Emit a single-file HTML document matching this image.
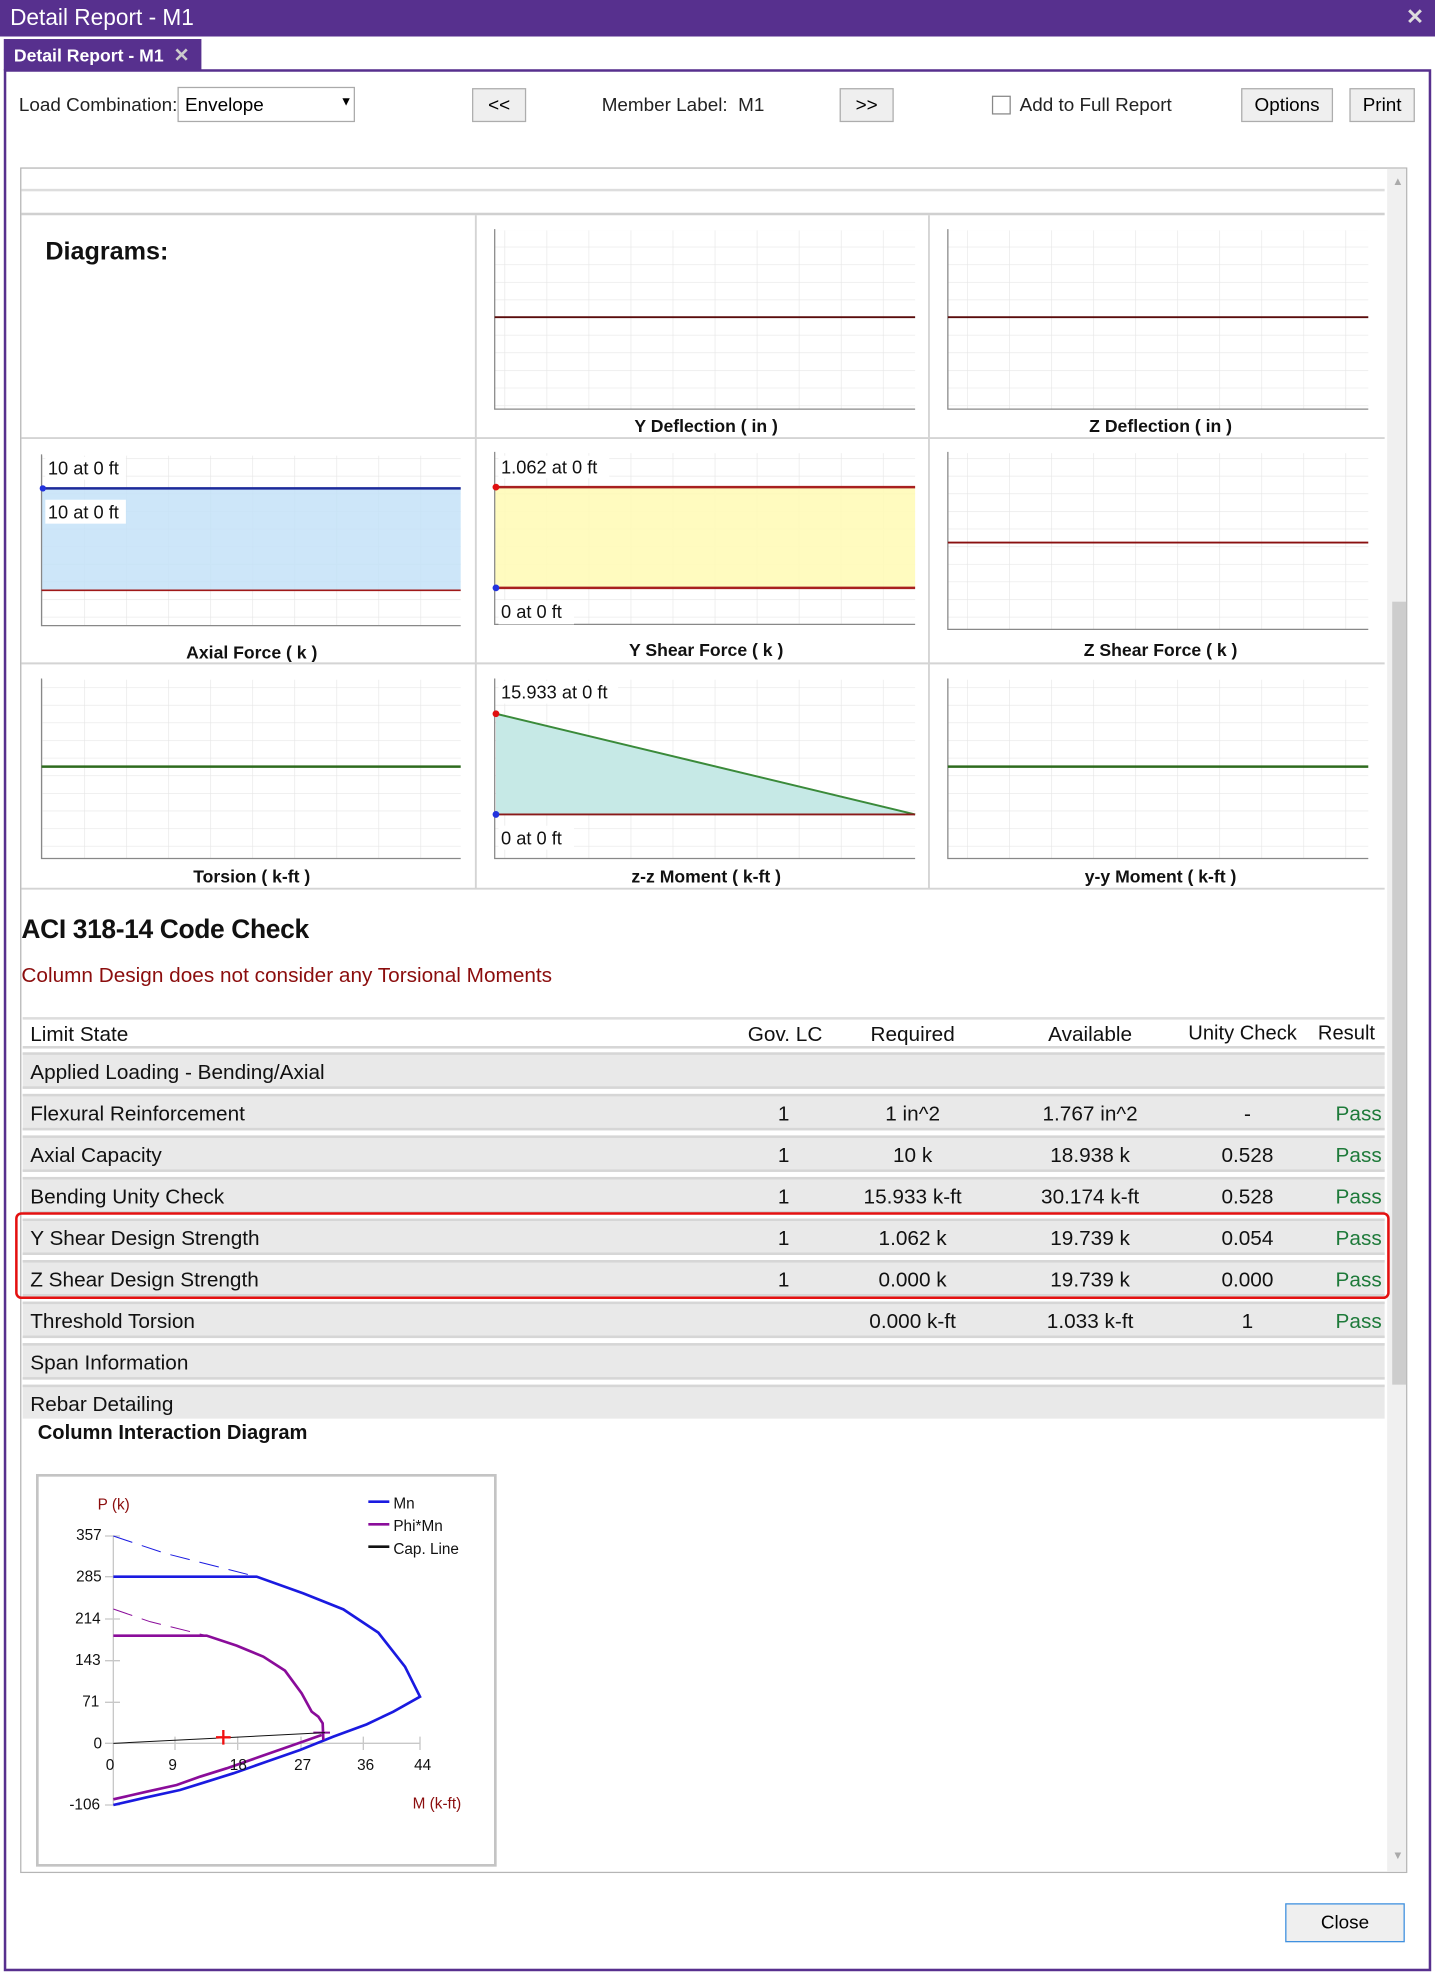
<!DOCTYPE html>
<html><head><meta charset="utf-8">
<style>
html,body{margin:0;padding:0;background:#fff;width:1435px;height:1973px;overflow:hidden;font-family:"Liberation Sans",sans-serif;}
#w{position:absolute;left:0;top:0;width:1140px;height:1568px;transform:scale(1.25877);transform-origin:0 0;}
.a{position:absolute;}
.t{position:absolute;white-space:nowrap;}
.btn{position:absolute;background:#efefef;border:1px solid #adadad;font-size:15px;text-align:center;box-sizing:border-box;}
.row{position:absolute;left:18px;width:1082px;height:29px;background:#e9e9e9;border-top:2px solid #d6d6d6;border-bottom:2px solid #d6d6d6;box-sizing:border-box;font-size:16.5px;color:#111;}
.row span{position:absolute;top:5px;white-space:nowrap;}
.c1{left:6px}.c2{left:600px}.c3{left:647px;width:120px;text-align:center}.c4{left:783px;width:130px;text-align:center}.c5{left:933px;width:80px;text-align:center}.c6{left:1043px;color:#1e7a3a}
</style></head><body>
<div id="w">
<div class="a" style="left:0;top:0;width:1140px;height:29px;background:#57308e;"></div>
<div class="t" style="left:8px;top:4px;font-size:18px;color:#fff;">Detail Report - M1</div>
<div class="t" style="left:1117px;top:4px;font-size:17px;color:#ddd;font-weight:bold;">✕</div>
<div class="a" style="left:3px;top:31px;width:157px;height:25px;background:#57308e;"></div>
<div class="t" style="left:11px;top:35px;font-size:14px;color:#fff;font-weight:bold;">Detail Report - M1 <span style="color:#ccc;font-size:15px;margin-left:4px">✕</span></div>
<div class="a" style="left:3px;top:55px;width:1130px;height:1507px;border:2px solid #57308e;"></div>
<div class="t" style="left:15px;top:75px;font-size:15px;color:#222;">Load Combination:</div>
<div class="a" style="left:141px;top:69px;width:141px;height:28px;border:1px solid #aaa;box-sizing:border-box;"></div>
<div class="t" style="left:147px;top:75px;font-size:15px;">Envelope</div>
<div class="t" style="left:270px;top:76px;font-size:10px;">▼</div>
<div class="btn" style="left:375px;top:70px;width:43px;height:27px;line-height:25px;">&lt;&lt;</div>
<div class="t" style="left:478px;top:75px;font-size:15px;color:#222;">Member Label:&nbsp; M1</div>
<div class="btn" style="left:667px;top:70px;width:43px;height:27px;line-height:25px;">&gt;&gt;</div>
<div class="a" style="left:788px;top:76px;width:15px;height:15px;border:1px solid #888;box-sizing:border-box;"></div>
<div class="t" style="left:810px;top:75px;font-size:15px;color:#222;">Add to Full Report</div>
<div class="btn" style="left:986px;top:70px;width:73px;height:27px;line-height:25px;">Options</div>
<div class="btn" style="left:1072px;top:70px;width:52px;height:27px;line-height:25px;">Print</div>
<div class="a" style="left:16px;top:133px;width:1102px;height:1355px;border:1px solid #b5b5b5;box-sizing:border-box;"></div>
<div class="a" style="left:1102px;top:134px;width:15px;height:1353px;background:#f0f0f0;"></div>
<div class="a" style="left:1106px;top:478px;width:11px;height:622px;background:#cdcdcd;"></div>
<div class="t" style="left:1106px;top:139px;font-size:9px;color:#aaa;">▲</div>
<div class="t" style="left:1106px;top:1469px;font-size:9px;color:#aaa;">▼</div>
<div class="a" style="left:17px;top:150px;width:1083px;height:2px;background:#ddd;"></div>
<div class="a" style="left:17px;top:169px;width:1083px;height:2px;background:#d0d0d0;"></div>
<svg class="a" style="left:0;top:0" width="1140" height="720">
<defs>
<pattern id="g" width="33.4" height="14" patternUnits="userSpaceOnUse"><path d="M0 0V14M0 0H33.4" stroke="#e6e6e6" stroke-width="1" fill="none"/></pattern>
</defs>
<g stroke="#d4d4d4" stroke-width="1.5" fill="none">
<path d="M378 171V706M738 171V706M17 348H1100M17 527H1100M17 706H1100"/>
</g>
<g>
<rect x="393" y="183" width="334" height="142" fill="url(#g)"/>
<path d="M393 182V325H727" stroke="#888" fill="none"/>
<path d="M393 252H727" stroke="#5a0c0c" stroke-width="1.5"/>
<rect x="753" y="183" width="334" height="142" fill="url(#g)"/>
<path d="M753 182V325H1087" stroke="#888" fill="none"/>
<path d="M753 252H1087" stroke="#5a0c0c" stroke-width="1.5"/>
<rect x="33" y="362" width="333" height="135" fill="url(#g)"/>
<rect x="33" y="388" width="333" height="81" fill="#c4e2f8" opacity="0.85"/>
<path d="M33 361V497H366" stroke="#888" fill="none"/>
<path d="M33 388H366" stroke="#1c2a9a" stroke-width="2"/>
<path d="M33 469H366" stroke="#a01818" stroke-width="1.3"/>
<circle cx="34" cy="388" r="2.5" fill="#2233dd"/>
<rect x="393" y="360" width="334" height="136" fill="url(#g)"/>
<rect x="393" y="387" width="334" height="80" fill="#fffbb8" opacity="0.9"/>
<path d="M393 359V496H727" stroke="#888" fill="none"/>
<path d="M393 387H727M393 467H727" stroke="#a82020" stroke-width="2"/>
<circle cx="394" cy="387" r="2.7" fill="#e01010"/><circle cx="394" cy="467" r="2.7" fill="#2233dd"/>
<rect x="753" y="360" width="334" height="140" fill="url(#g)"/>
<path d="M753 359V500H1087" stroke="#888" fill="none"/>
<path d="M753 431H1087" stroke="#8a1010" stroke-width="1.5"/>
<rect x="33" y="540" width="333" height="142" fill="url(#g)"/>
<path d="M33 539V682H366" stroke="#888" fill="none"/>
<path d="M33 609H366" stroke="#2e6b1e" stroke-width="2"/>
<rect x="393" y="540" width="334" height="142" fill="url(#g)"/>
<path d="M394 567L727 647H394Z" fill="#c6e9e6"/>
<path d="M393 539V682H727" stroke="#888" fill="none"/>
<path d="M394 567L727 647" stroke="#3a8a3a" stroke-width="1.6"/>
<path d="M394 647H727" stroke="#8a1a1a" stroke-width="1.5"/>
<circle cx="394" cy="567" r="2.7" fill="#e01010"/><circle cx="394" cy="647" r="2.7" fill="#2233dd"/>
<rect x="753" y="540" width="334" height="142" fill="url(#g)"/>
<path d="M753 539V682H1087" stroke="#888" fill="none"/>
<path d="M753 609H1087" stroke="#2e6b1e" stroke-width="2"/>
</g>
<g font-family="Liberation Sans,sans-serif" font-size="14.5" fill="#111">
<rect x="36" y="363" width="64" height="18" fill="#fff"/><text x="38" y="377">10 at 0 ft</text>
<rect x="36" y="397" width="64" height="19" fill="#fff"/><text x="38" y="412">10 at 0 ft</text>
<rect x="396" y="362" width="88" height="18" fill="#fff"/><text x="398" y="376">1.062 at 0 ft</text>
<rect x="396" y="477" width="60" height="19" fill="#fff"/><text x="398" y="491">0 at 0 ft</text>
<rect x="396" y="541" width="95" height="18" fill="#fff"/><text x="398" y="555">15.933 at 0 ft</text>
<rect x="396" y="656" width="60" height="19" fill="#fff"/><text x="398" y="671">0 at 0 ft</text>
</g>
<g font-family="Liberation Sans,sans-serif" font-size="14" font-weight="bold" fill="#111" text-anchor="middle">
<text x="561" y="343">Y Deflection  ( in )</text>
<text x="922" y="343">Z Deflection  ( in )</text>
<text x="200" y="523">Axial Force  ( k )</text>
<text x="561" y="521">Y Shear Force  ( k )</text>
<text x="922" y="521">Z Shear Force  ( k )</text>
<text x="200" y="701">Torsion  ( k-ft )</text>
<text x="561" y="701">z-z Moment  ( k-ft )</text>
<text x="922" y="701">y-y Moment  ( k-ft )</text>
</g>
<text x="36" y="206" font-family="Liberation Sans,sans-serif" font-size="20" font-weight="bold" fill="#111">Diagrams:</text>
</svg>
<div class="t" style="left:17px;top:727px;font-size:21px;color:#111;font-weight:bold;letter-spacing:-0.3px;">ACI 318-14 Code Check</div>
<div class="t" style="left:17px;top:766px;font-size:16.5px;color:#8b0d0d;">Column Design does not consider any Torsional Moments</div>
<div class="row" style="top:808px;height:25px;background:#fff;border-top:2px solid #ddd;"><span class="c1" style="top:3px">Limit State</span><span style="left:576px;top:3px">Gov. LC</span><span class="c3" style="top:3px">Required</span><span class="c4" style="top:3px">Available</span><span style="left:926px;top:3px;font-size:16px">Unity Check</span><span style="left:1029px;top:3px;font-size:16px">Result</span></div>
<div class="row" style="top:836px;"><span class="c1">Applied Loading - Bending/Axial</span></div>
<div class="row" style="top:869px;"><span class="c1">Flexural Reinforcement</span><span class="c2">1</span><span class="c3">1 in^2</span><span class="c4">1.767 in^2</span><span class="c5">-</span><span class="c6">Pass</span></div>
<div class="row" style="top:902px;"><span class="c1">Axial Capacity</span><span class="c2">1</span><span class="c3">10 k</span><span class="c4">18.938 k</span><span class="c5">0.528</span><span class="c6">Pass</span></div>
<div class="row" style="top:935px;"><span class="c1">Bending Unity Check</span><span class="c2">1</span><span class="c3">15.933 k-ft</span><span class="c4">30.174 k-ft</span><span class="c5">0.528</span><span class="c6">Pass</span></div>
<div class="row" style="top:968px;"><span class="c1">Y Shear Design Strength</span><span class="c2">1</span><span class="c3">1.062 k</span><span class="c4">19.739 k</span><span class="c5">0.054</span><span class="c6">Pass</span></div>
<div class="row" style="top:1001px;"><span class="c1">Z Shear Design Strength</span><span class="c2">1</span><span class="c3">0.000 k</span><span class="c4">19.739 k</span><span class="c5">0.000</span><span class="c6">Pass</span></div>
<div class="row" style="top:1034px;"><span class="c1">Threshold Torsion</span><span class="c3">0.000 k-ft</span><span class="c4">1.033 k-ft</span><span class="c5">1</span><span class="c6">Pass</span></div>
<div class="row" style="top:1067px;"><span class="c1">Span Information</span></div>
<div class="row" style="top:1100px;border-bottom:none;height:27px;"><span class="c1">Rebar Detailing</span></div>
<div class="a" style="left:12px;top:963px;width:1092px;height:69px;border:2.5px solid #e41010;border-radius:5px;box-sizing:border-box;"></div>
<div class="t" style="left:30px;top:1130px;font-size:16px;font-weight:bold;color:#111;">Column Interaction Diagram</div>
<div class="btn" style="left:1021px;top:1512px;width:95px;height:31px;line-height:29px;border-color:#3c8fe0;">Close</div>
</div>
<svg class="a" style="left:0;top:1440px" width="520" height="440" viewBox="0 0 1560 1320">
<rect x="112" y="106" width="1374" height="1170" fill="#fff" stroke="#c4c4c4" stroke-width="8"/>
<g stroke="#c8c8c8" stroke-width="4" fill="none">
<path d="M340 288V1095M340 910H1260"/>
<path d="M315 288H360M315 410H360M315 537H360M315 662H360M315 787H360M315 910H340M315 1095H360"/>
<path d="M525 890V930M713 890V930M903 890V930M1090 890V930M1260 890V930"/>
</g>
<path d="M340 288L495 340L770 410" stroke="#1a1ae0" stroke-width="3" fill="none" stroke-dasharray="60,30"/>
<path d="M340 410H770L910 460L1030 508L1135 578L1215 680L1260 770L1180 815L1100 853L1000 890L900 930L800 965L700 1000L620 1025L540 1050L440 1072L340 1095" stroke="#1a1ae0" stroke-width="8" fill="none"/>
<path d="M340 507L450 545L620 587" stroke="#8a0c9a" stroke-width="3" fill="none" stroke-dasharray="60,30"/>
<path d="M340 587H620L710 617L790 650L855 692L905 760L935 815L955 830L968 850L970 900" stroke="#8a0c9a" stroke-width="8" fill="none"/>
<path d="M965 885L880 915L780 950L680 985L600 1010L530 1035L440 1055L340 1078" stroke="#8a0c9a" stroke-width="8" fill="none"/>
<path d="M940 878H990" stroke="#8a0c9a" stroke-width="6"/>
<path d="M340 910L975 878" stroke="#111" stroke-width="3"/>
<path d="M648 892H692M670 870V914" stroke="#f01010" stroke-width="7"/>
<g stroke-width="8"><path d="M1105 185H1168" stroke="#1a1ae0"/><path d="M1105 253H1168" stroke="#8a0c9a"/><path d="M1105 320H1168" stroke="#111"/></g>
<g font-family="Liberation Sans,sans-serif" font-size="46" fill="#111">
<text x="1180" y="205">Mn</text><text x="1180" y="273">Phi*Mn</text><text x="1180" y="342">Cap. Line</text>
<g text-anchor="end"><text x="305" y="300">357</text><text x="305" y="425">285</text><text x="302" y="551">214</text><text x="302" y="675">143</text><text x="298" y="800">71</text><text x="306" y="925">0</text><text x="300" y="1108">-106</text></g>
<g text-anchor="middle"><text x="330" y="990">0</text><text x="518" y="990">9</text><text x="715" y="990">18</text><text x="908" y="990">27</text><text x="1097" y="990">36</text><text x="1268" y="990">44</text></g>
<text x="293" y="208" fill="#8b0d0d">P (k)</text>
<text x="1238" y="1105" fill="#8b0d0d">M (k-ft)</text>
</g>
</svg>
</body></html>
